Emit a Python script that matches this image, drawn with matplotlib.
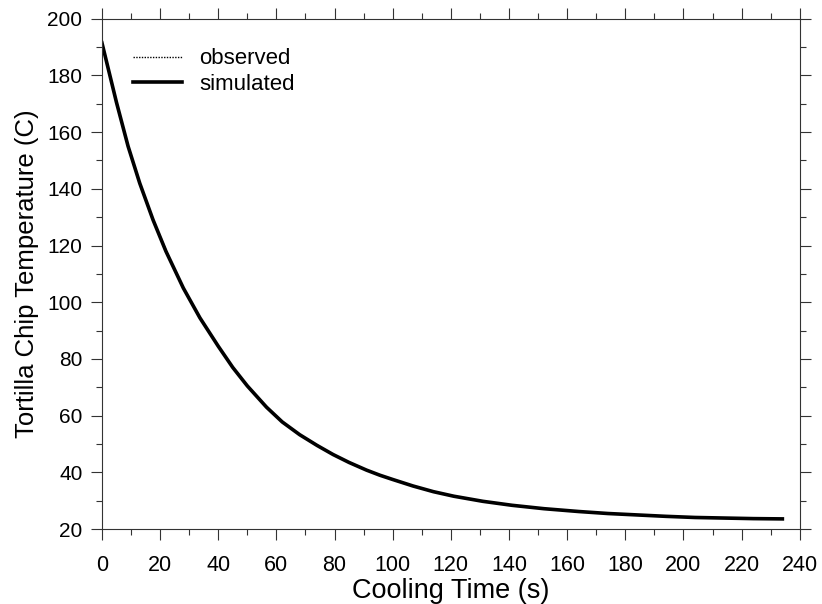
import numpy as np
import matplotlib.pyplot as plt

plt.rcParams['font.family'] = ['Liberation Sans', 'DejaVu Sans']

# values
time_s = [0, 2.5, 5, 9, 13, 17.6, 22, 28, 33.7, 40, 45, 50, 56.6, 62, 68,
          74, 79.5, 85, 91, 95.6, 100, 107, 114, 121, 131, 141, 152, 164,
          174, 184, 194, 204, 214, 224, 234]
observed = [192, 181.5, 170.5, 155.5, 142, 129.5, 118.5, 105, 94.5, 84.5, 77.2,
            70.5, 63, 57.8, 53.4, 49.7, 46.3, 43.6, 40.8, 39.1, 37.5, 35.3,
            33.2, 31.6, 29.8, 28.3, 27.2, 26.2, 25.4, 24.9, 24.4, 24.1, 23.8,
            23.6, 23.5]
simulated = [191.5, 181, 170.5, 155, 142, 129, 118, 105, 94.5, 84.5, 77,
             70.5, 63, 57.8, 53.3, 49.5, 46.3, 43.5, 40.8, 39, 37.5, 35.2,
             33.2, 31.6, 29.8, 28.4, 27.2, 26.2, 25.5, 25, 24.5, 24.1, 23.9,
             23.7, 23.6]

fig = plt.figure(figsize=(8.22, 6.04), dpi=100)
ax = fig.add_axes([0.124, 0.124, 0.849, 0.845])

ax.plot(time_s, observed, color='black', lw=1.0, ls=(0, (1, 1)), label='observed')
ax.plot(time_s, simulated, color='black', lw=2.6, label='simulated',
        solid_joinstyle='round')

ax.set_xlim(0, 240)
ax.set_ylim(20, 200)
ax.set_xticks(np.arange(0, 241, 20))
ax.set_yticks(np.arange(20, 201, 20))
ax.set_xticks(np.arange(10, 240, 20), minor=True)
ax.set_yticks(np.arange(30, 200, 20), minor=True)
ax.tick_params(which='both', direction='out', top=True, right=True,
               width=0.8, color='#333333')
ax.tick_params(which='major', length=8)
ax.tick_params(which='minor', length=4)
ax.tick_params(axis='x', labelsize=15.5, pad=11)
ax.tick_params(axis='y', labelsize=15, pad=6)
for s in ax.spines.values():
    s.set_linewidth(0.8)
    s.set_color('#333333')

ax.set_xlabel('Cooling Time (s)', fontsize=19.5, labelpad=1)
ax.set_ylabel('Tortilla Chip Temperature (C)', fontsize=18.5, labelpad=6)

ax.legend(loc='upper left', frameon=False, fontsize=16, handlelength=2.2,
          bbox_to_anchor=(0.044, 0.942), borderaxespad=0, borderpad=0,
          handletextpad=0.8, labelspacing=0.2)

fig.savefig('out.png', dpi=100)
